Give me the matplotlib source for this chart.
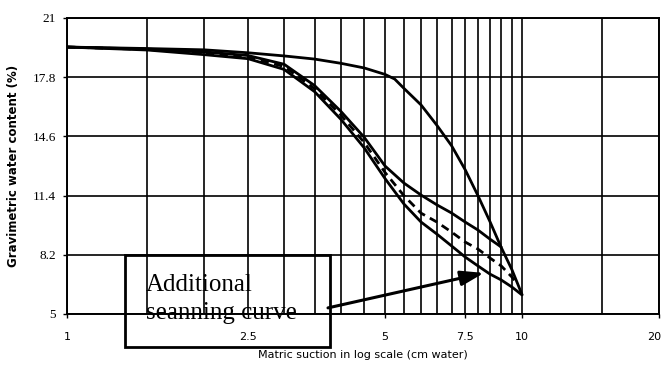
import matplotlib
matplotlib.use("Agg")
import matplotlib.pyplot as plt
import matplotlib.transforms as mtransforms
from matplotlib.patches import Rectangle

# Matric suction (cm water) at which each curve is sampled
suction = [1, 1.5, 2, 2.5, 3, 3.5, 4, 4.5, 5, 5.5, 6, 6.5, 7, 7.5, 8, 8.5, 9, 9.5, 10]

# Main drying curve
drying_x = [1, 1.5, 2, 2.5, 3, 3.5, 4, 4.5, 5, 5.25, 5.5, 6, 6.5, 7, 7.5, 8, 8.5, 9, 9.5, 10]
drying_y = [19.43, 19.35, 19.28, 19.12, 18.95, 18.78, 18.55, 18.3, 17.95, 17.7,
            17.2, 16.3, 15.2, 14.1, 12.8, 11.4, 10.0, 8.6, 7.4, 6.05]

# Wetting curve ending on the drying curve near 9 cm
wetting_x = [1, 1.5, 2, 2.5, 3, 3.5, 4, 4.5, 5, 5.5, 6, 6.5, 7, 7.5, 8, 8.5, 9]
wetting_y = [19.43, 19.32, 19.17, 18.97, 18.5, 17.35, 15.95, 14.55, 13.0,
             12.08, 11.43, 10.9, 10.46, 9.97, 9.54, 9.05, 8.62]

# Intermediate (dashed) curve
dashed_x = [1, 1.5, 2, 2.5, 3, 3.5, 4, 4.5, 5, 5.5, 6, 6.5, 7, 7.5, 8, 8.5, 9, 9.5, 9.8]
dashed_y = [19.43, 19.3, 19.12, 18.88, 18.38, 17.18, 15.75, 14.27, 12.65, 11.4,
            10.45, 9.97, 9.43, 8.89, 8.51, 8.03, 7.6, 7.0, 6.6]

# Additional scanning curve
scan_x = suction
scan_y = [19.43, 19.27, 19.02, 18.8, 18.22, 17.02, 15.52, 13.98, 12.32, 10.95,
          9.97, 9.32, 8.68, 8.08, 7.6, 7.16, 6.84, 6.46, 6.03]

y_ticks = [5, 8.2, 11.4, 14.6, 17.8, 21]
x_ticks = [1, 2.5, 5, 7.5, 10, 20]
x_tick_labels = ["1", "2.5", "5", "7.5", "10", "20"]
x_grid = [1 + 0.5 * i for i in range(19)] + [15, 20]

W, H = 662, 368
fig = plt.figure(figsize=(W / 100, H / 100), dpi=100)
ax = fig.add_axes([67 / W, 1 - 314 / H, (659 - 67) / W, (314 - 18) / H])

ax.set_xscale("log")
ax.set_xlim(1, 20)
ax.set_ylim(5, 21)

ax.set_xticks(x_grid, minor=True)
ax.set_xticks(x_ticks)
ax.set_xticklabels(x_tick_labels, fontsize=8, family="DejaVu Sans")
ax.set_yticks(y_ticks)
ax.set_yticklabels([("%g" % v) for v in y_ticks], fontsize=9.5, family="Liberation Serif")
ax.tick_params(axis="x", which="major", length=3, width=1, pad=10)
ax.tick_params(axis="x", which="minor", length=0)
ax.tick_params(axis="y", length=3, width=1, pad=5)
ax.xaxis.set_minor_formatter(matplotlib.ticker.NullFormatter())

# keep the last x label inside the figure edge
last = ax.get_xticklabels()[-1]
last.set_transform(last.get_transform() +
                   mtransforms.ScaledTranslation(-5 / 100, 0, fig.dpi_scale_trans))

ax.grid(True, which="both", axis="x", color="black", linewidth=1.2)
ax.grid(True, which="major", axis="y", color="black", linewidth=1.2)
ax.set_axisbelow(True)
for s in ax.spines.values():
    s.set_linewidth(1.4)
    s.set_color("black")

lw = 2.0
ax.plot(drying_x, drying_y, color="black", lw=lw, solid_capstyle="round",
        solid_joinstyle="round")
ax.plot(wetting_x, wetting_y, color="black", lw=lw, solid_capstyle="round",
        solid_joinstyle="round")
ax.plot(dashed_x, dashed_y, color="black", lw=lw, linestyle=(0, (3, 2)))
ax.plot(scan_x, scan_y, color="black", lw=lw, solid_capstyle="round",
        solid_joinstyle="round")

ax.set_xlabel("Matric suction in log scale (cm water)", fontsize=8,
              family="DejaVu Sans", labelpad=6)
ax.set_ylabel("Gravimetric water content (%)", fontsize=8.5, fontweight="bold",
              family="DejaVu Sans", labelpad=9)

# Label box and arrow
box = Rectangle((125 / W, 1 - 347 / H), (330 - 125) / W, (347 - 255) / H,
                transform=fig.transFigure, fill=False, edgecolor="black",
                linewidth=2, zorder=5)
fig.patches.append(box)
fig.text(146 / W, 1 - 291 / H, "Additional", fontsize=18,
         family="Liberation Serif", va="baseline", ha="left")
fig.text(146 / W, 1 - 319 / H, "seanning curve", fontsize=18,
         family="Liberation Serif", va="baseline", ha="left")

ax.annotate("", xy=(8.25, 7.22), xytext=(3.746, 5.33),
            xycoords="data", textcoords="data",
            arrowprops=dict(arrowstyle="-|>,head_length=1.4,head_width=0.45",
                            color="black", lw=2.2, shrinkA=0, shrinkB=0),
            annotation_clip=False)

fig.savefig("out.png", dpi=100)
